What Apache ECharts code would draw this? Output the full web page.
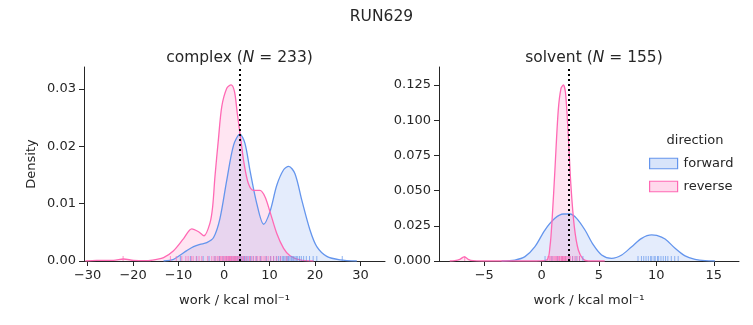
<!DOCTYPE html>
<html>
<head>
<meta charset="utf-8">
<script src="https://cdn.jsdelivr.net/npm/echarts@6/dist/echarts.min.js"></script>
<style>
  html, body { margin: 0; padding: 0; background: #fff; }
  #chart { width: 753px; height: 325px; }
</style>
</head>
<body>
<div id="chart"></div>
<script>
// ---- complex leg: kernel density of work values ----
const complexForwardX = [-13.3, -11.1, -9.7, -8.2, -6.7, -5.3, -3.8, -2.3, -0.9, 0.6, 2.1, 3.5, 4.6, 5.7, 7.2, 8.7, 10.1, 11.6, 13.1, 14.2, 15.6, 17.1, 18.9, 20.4, 22.6, 25.5, 29.2];
const complexForwardY = [0.0, 0.0003, 0.001, 0.0018, 0.0025, 0.0029, 0.0032, 0.0041, 0.0074, 0.0141, 0.0202, 0.0221, 0.0205, 0.0158, 0.0100, 0.0064, 0.0086, 0.0132, 0.0159, 0.0165, 0.0152, 0.0106, 0.0054, 0.0025, 0.0008, 0.0002, 0.0];
const complexReverseX = [-30.5, -28.0, -24.3, -22.1, -19.9, -17.0, -14.8, -13.3, -11.1, -8.9, -7.1, -5.6, -4.4, -3.1, -2.5, -2.0, -1.25, -0.5, 0.6, 1.55, 2.3, 2.9, 3.7, 4.4, 5.35, 6.45, 7.9, 9.0, 10.1, 11.6, 13.1, 14.5, 16.7, 19.7];
const complexReverseY = [0.0, 0.0001, 0.0001, 0.00035, 0.0001, 0.00005, 0.0003, 0.0006, 0.0018, 0.0039, 0.0056, 0.0051, 0.0044, 0.0066, 0.0095, 0.0147, 0.0211, 0.0269, 0.0301, 0.0307, 0.0295, 0.0258, 0.0211, 0.0170, 0.0135, 0.0123, 0.0123, 0.0112, 0.0086, 0.0048, 0.0022, 0.0009, 0.0002, 0.0];

// ---- solvent leg: kernel density of work values ----
const solventForwardX = [-3.49, -2.33, -1.45, -0.58, 0.29, 1.16, 1.89, 2.47, 3.05, 3.78, 4.51, 5.23, 6.10, 6.98, 7.85, 8.72, 9.59, 10.03, 10.76, 11.63, 12.5, 13.37, 14.24, 15.1];
const solventForwardY = [0.0, 0.0007, 0.0031, 0.0102, 0.0220, 0.0303, 0.0334, 0.0334, 0.0303, 0.0220, 0.0114, 0.0043, 0.0019, 0.0043, 0.0102, 0.0161, 0.0185, 0.0182, 0.0156, 0.0090, 0.0036, 0.0012, 0.0002, 0.0];
const solventReverseX = [-8.0, -7.56, -7.12, -6.74, -6.4, -5.96, -5.2, -1.0, 0.44, 0.73, 0.93, 1.16, 1.45, 1.69, 1.89, 2.09, 2.33, 2.56, 2.85, 3.2, 3.63, 4.07, 5.5];
const solventReverseY = [0.0, 0.0002, 0.0012, 0.0030, 0.0012, 0.0002, 0.0, 0.0, 0.0007, 0.0102, 0.0315, 0.0646, 0.107, 0.1226, 0.125, 0.119, 0.0883, 0.0528, 0.0244, 0.0078, 0.0012, 0.0, 0.0];

// ---- individual work values (rug) ----
const complexForwardRug = [-9.6, -7.4, -6.0, -4.6, -3.3, -2.0, -1.0, -0.2, 0.5, 1.1, 1.7, 2.2, 2.6, 3.0, 3.3, 3.6, 3.9, 4.2, 4.5, 4.9, 5.3, 5.8, 6.4, 7.1, 8.0, 9.3, 10.2, 10.9, 11.5, 12.0, 12.4, 12.8, 13.1, 13.4, 13.7, 14.0, 14.2, 14.5, 14.8, 15.0, 15.3, 15.6, 15.9, 16.2, 16.6, 17.0, 17.5, 18.1, 18.8, 19.6, 20.4, 26.0];
const complexReverseRug = [-22.2, -11.8, -10.5, -9.3, -8.4, -7.9, -7.2, -6.8, -6.1, -5.5, -4.9, -3.6, -2.7, -2.2, -1.8, -1.4, -1.1, -0.8, -0.5, -0.3, 0.0, 0.2, 0.4, 0.6, 0.8, 1.0, 1.2, 1.4, 1.5, 1.7, 1.9, 2.1, 2.3, 2.5, 2.7, 2.9, 3.1, 3.4, 3.7, 4.0, 4.3, 4.7, 5.1, 5.6, 6.0, 6.5, 7.0, 7.4, 7.9, 8.3, 8.8, 9.2, 9.7, 10.3, 10.9, 11.6, 12.4, 13.8];
const solventForwardRug = [0.3, 0.9, 1.4, 1.8, 2.1, 2.4, 2.7, 3.0, 3.3, 3.6, 8.4, 8.7, 8.9, 9.1, 9.3, 9.5, 9.6, 9.8, 9.9, 10.1, 10.2, 10.4, 10.6, 10.8, 11.0, 11.3, 11.6, 11.9];
const solventReverseRug = [-6.7, 0.55, 0.7, 0.8, 0.9, 1.0, 1.1, 1.2, 1.3, 1.4, 1.5, 1.55, 1.6, 1.7, 1.75, 1.8, 1.85, 1.9, 2.0, 2.05, 2.1, 2.2, 2.3, 2.4, 2.5, 2.7, 2.9, 3.1, 3.3];

// ---- mean work (dotted reference lines) ----
const complexMean = 3.5;
const solventMean = 2.36;

// ---- axis ticks ----
const complexXTicks = [-30, -20, -10, 0, 10, 20, 30];
const complexYTicks = [0, 0.01, 0.02, 0.03];
const solventXTicks = [-5, 0, 5, 10, 15];
const solventYTicks = [0, 0.025, 0.05, 0.075, 0.1, 0.125];

const FONT = 'DejaVu Sans';
const INK = '#262626';
const BLUE = '#6495ED';
const PINK = '#FF69B4';
const BLUE_FILL = 'rgba(100,149,237,0.25)';
const PINK_FILL = 'rgba(255,105,180,0.25)';

const zip = (xs, ys) => xs.map((x, i) => [x, ys[i]]);
const minus = v => String(v).replace('-', '\u2212');

function xAxisFor(gridIndex, min, max, ticks) {
  return {
    type: 'value', gridIndex, min, max,
    name: 'work / kcal mol\u207B\u00B9',
    nameLocation: 'middle', nameGap: 33,
    nameTextStyle: { fontFamily: FONT, fontSize: 13, color: INK },
    axisLine: { show: true, onZero: false, lineStyle: { color: INK, width: 1 } },
    axisTick: { show: true, length: 5, lineStyle: { color: INK, width: 1 }, customValues: ticks },
    axisLabel: { fontFamily: FONT, fontSize: 13, color: INK, margin: 8, customValues: ticks, formatter: minus },
    splitLine: { show: false }
  };
}
function yAxisFor(gridIndex, max, ticks, digits, name) {
  return {
    type: 'value', gridIndex, min: 0, max,
    name: name || '',
    nameLocation: 'middle', nameGap: 46,
    nameTextStyle: { fontFamily: FONT, fontSize: 13, color: INK },
    axisLine: { show: true, onZero: false, lineStyle: { color: INK, width: 1 } },
    axisTick: { show: true, length: 5, lineStyle: { color: INK, width: 1 }, customValues: ticks },
    axisLabel: { fontFamily: FONT, fontSize: 13, color: INK, margin: 8, customValues: ticks,
                 formatter: v => v.toFixed(digits) },
    splitLine: { show: false }
  };
}
function densitySeries(name, idx, xs, ys, line, fill) {
  return {
    name, type: 'line', xAxisIndex: idx, yAxisIndex: idx,
    data: zip(xs, ys), smooth: 0.3, showSymbol: false, symbol: 'none',
    lineStyle: { color: line, width: 1.3 },
    itemStyle: { color: line },
    areaStyle: { color: fill, origin: 'start' },
    silent: true, z: 2
  };
}
function rugSeries(name, idx, values, color) {
  return {
    name, type: 'scatter', xAxisIndex: idx, yAxisIndex: idx,
    data: values.map(v => [v, 0]),
    symbol: 'rect', symbolSize: [1, 5], symbolOffset: [0, -2.5],
    itemStyle: { color, opacity: 0.7 },
    silent: true, z: 3
  };
}
function meanLine(idx, value) {
  return {
    type: 'line', xAxisIndex: idx, yAxisIndex: idx, data: [], silent: true,
    markLine: {
      symbol: 'none', silent: true, label: { show: false },
      lineStyle: { color: '#000', type: [2, 3], width: 2 },
      data: [{ xAxis: value }]
    },
    z: 5
  };
}
function panelTitle(text, n, center) {
  return {
    text: '{a|' + text + ' (}{n|N}{a| = ' + n + ')}',
    left: center, top: 45, textAlign: 'center',
    textStyle: {
      fontWeight: 'normal',
      rich: {
        a: { fontFamily: FONT, fontSize: 15.5, color: INK, fontWeight: 'normal' },
        n: { fontFamily: FONT, fontSize: 15.5, color: INK, fontWeight: 'normal', fontStyle: 'italic' }
      }
    }
  };
}

const chart = echarts.init(document.getElementById('chart'), null, { renderer: 'canvas' });
chart.setOption({
  backgroundColor: '#fff',
  animation: false,
  title: [
    { text: 'RUN629', left: 376.5, top: 4, textAlign: 'center',
      textStyle: { fontFamily: FONT, fontSize: 15.5, fontWeight: 'normal', color: INK } },
    panelTitle('complex', 233, 234.5),
    panelTitle('solvent', 155, 589)
  ],
  grid: [
    { left: 84, top: 67, width: 301, height: 194 },
    { left: 439, top: 67, width: 300, height: 194 }
  ],
  xAxis: [
    xAxisFor(0, -30.8, 35.4, complexXTicks),
    xAxisFor(1, -8.94, 17.2, solventXTicks)
  ],
  yAxis: [
    yAxisFor(0, 0.0338, complexYTicks, 2, 'Density'),
    yAxisFor(1, 0.1378, solventYTicks, 3)
  ],
  legend: {
    orient: 'vertical', left: 649, top: 157, padding: 0,
    itemWidth: 28, itemHeight: 10.5, itemGap: 10,
    textStyle: { fontFamily: FONT, fontSize: 13, color: INK, padding: [0, 0, 0, 1] },
    data: [
      { name: 'forward', icon: 'rect', itemStyle: { color: BLUE_FILL, borderColor: BLUE, borderWidth: 1.2 } },
      { name: 'reverse', icon: 'rect', itemStyle: { color: PINK_FILL, borderColor: PINK, borderWidth: 1.2 } }
    ]
  },
  graphic: [
    { type: 'text', x: 695, y: 141,
      style: { text: 'direction', fontFamily: FONT, fontSize: 13, fill: INK,
               textAlign: 'center', textVerticalAlign: 'middle' } }
  ],
  series: [
    densitySeries('forward', 0, complexForwardX, complexForwardY, BLUE, BLUE_FILL),
    densitySeries('reverse', 0, complexReverseX, complexReverseY, PINK, PINK_FILL),
    rugSeries('forward', 0, complexForwardRug, BLUE),
    rugSeries('reverse', 0, complexReverseRug, PINK),
    meanLine(0, complexMean),
    densitySeries('forward', 1, solventForwardX, solventForwardY, BLUE, BLUE_FILL),
    densitySeries('reverse', 1, solventReverseX, solventReverseY, PINK, PINK_FILL),
    rugSeries('forward', 1, solventForwardRug, BLUE),
    rugSeries('reverse', 1, solventReverseRug, PINK),
    meanLine(1, solventMean)
  ]
});
</script>
</body>
</html>
